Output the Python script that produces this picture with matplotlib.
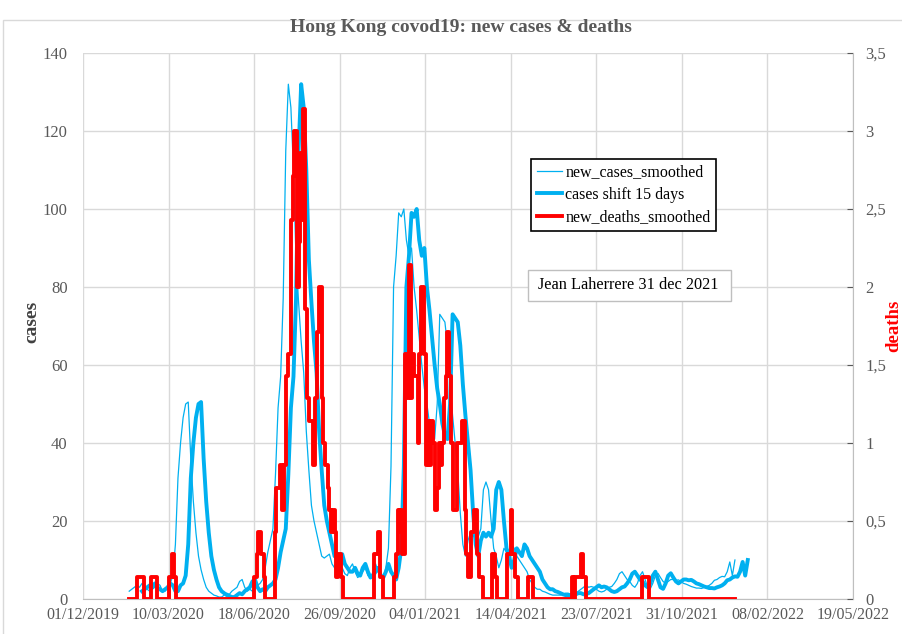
import pandas as pd
import matplotlib
matplotlib.use('Agg')
import matplotlib.pyplot as plt
import matplotlib.dates as mdates
from matplotlib.patches import Rectangle
from matplotlib.ticker import FuncFormatter

# day 0 of the x axis
origin = pd.Timestamp('2019-12-01')

# new_cases_smoothed, one value every 3 days from 24/01/2020
cases_start = '2020-01-24'
cases_step = '3D'
new_cases_smoothed = [
    2, 2.5, 3, 3.5, 3, 4, 3, 2.5, 2, 2.5,
    3, 4, 3.5, 2, 2, 3.5, 4, 6, 14, 31,
    40, 46.5, 50, 50.5, 36, 25, 17, 11, 7.5, 5,
    3, 2, 1.5, 1, 0.8, 0.5, 0.5, 1, 1.5, 1.2,
    2, 2.5, 3, 4.5, 5, 3, 2, 2.5, 2, 3,
    3.5, 4, 5, 8, 12, 15, 18, 32, 49, 57,
    77, 115, 132, 126, 110, 87, 76, 66, 58, 43,
    33, 24, 20, 17, 14, 11, 10.5, 11, 11.5, 9,
    8, 7, 7, 8, 6.5, 6, 8, 9, 7, 5.5,
    6, 7, 8, 6, 5.5, 7, 9, 7, 6, 5,
    8, 13, 34, 80, 88, 99, 98, 100, 92, 88,
    90, 80, 74, 67, 60, 54, 50, 45, 42, 41,
    50, 73, 72, 71, 65, 55, 47, 40, 33, 22,
    14, 11, 15, 17, 16, 17, 16, 18, 28, 30,
    28, 20, 13, 11, 8, 10, 13, 12, 11, 14,
    13, 11, 10, 9, 8, 7, 5, 4, 3, 2.5,
    2.5, 2, 1.8, 1.5, 1.2, 1, 1, 1, 1, 1.2,
    1.5, 1.5, 1.2, 1.3, 1.5, 2, 2.5, 3, 3.5, 3,
    3.2, 3, 2.5, 2, 1.8, 2, 2.5, 3, 3.2, 4,
    5, 6.5, 7, 6, 5, 4.5, 3.5, 3, 4, 6,
    7, 5, 3, 2.6, 4, 6, 6.6, 5.5, 4.5, 4,
    4.5, 5, 5, 4.8, 4.9, 4.5, 4, 3.8, 3.5, 3.2,
    3, 2.8, 2.8, 2.7, 3, 3.2, 3.5, 4, 4.8, 5,
    5.5, 5.8, 5.7, 7, 9.5, 6, 10,
]
shift_days = 15

# deaths over the last 7 days, given where it changes (day after 01/12/2019)
death_day = [
    54, 63, 71, 79, 87, 101, 104, 106, 109,
    200, 203, 205, 208, 211, 213,
    224, 226, 230, 233, 235, 237, 240, 243, 245, 247, 250, 252, 254, 256, 257,
    260, 262, 264, 269, 271, 274, 276, 279, 281, 283, 286, 288, 290, 292, 294,
    296, 298, 302, 304,
    340, 345, 347, 351, 363, 366, 368, 369, 371, 373, 376, 379, 381, 383, 385,
    387, 391, 393, 395, 399, 401, 403, 405, 407, 409, 412, 414, 416, 418, 420,
    422, 424, 426, 428, 430, 433, 437, 443, 446, 448, 450, 453, 457, 461, 463,
    468, 478, 481, 484, 496, 500, 502, 505, 509, 520, 526,
    571, 573, 575, 582, 584, 588, 653, 661, 762,
]
death_7day_total = [
    0, 1, 0, 1, 0, 1, 2, 1, 0,
    1, 2, 3, 2, 1, 0,
    3, 5, 6, 4, 6, 10, 11, 17, 19, 21, 14, 16, 20, 17, 22,
    13, 9, 8, 6, 9, 12, 14, 9, 7, 6, 5, 4, 3, 4, 3,
    1, 2, 1, 0,
    2, 3, 1, 0, 1, 2, 4, 3, 4, 2, 11, 9, 15, 9, 11,
    10, 7, 11, 14, 11, 6, 8, 6, 8, 7, 4, 5, 7, 6, 7,
    9, 10, 12, 10, 7, 4, 7, 8, 4, 2, 1, 3, 4, 2, 1,
    0, 2, 1, 0, 2, 4, 2, 1, 0, 1, 0,
    1, 0, 1, 2, 1, 0, 1, 0, 0,
]

x_ticks = pd.date_range(origin, periods=10, freq='100D')

cases_dates = pd.date_range(cases_start, periods=len(new_cases_smoothed), freq=cases_step)
shifted_dates = cases_dates + pd.Timedelta(days=shift_days)
death_dates = origin + pd.to_timedelta(death_day, unit='D')
new_deaths_smoothed = [k / 7 for k in death_7day_total]

plt.rcParams['font.family'] = ['Liberation Serif', 'DejaVu Serif']
gray = '#595959'
blue = '#00B0F0'

fig = plt.figure(figsize=(9.03, 6.34), dpi=100)
ax = fig.add_axes([83 / 903, 1 - 599 / 634, 770 / 903, 546 / 634])

ax.plot(cases_dates, new_cases_smoothed, color=blue, lw=0.9, label='new_cases_smoothed')
ax.plot(shifted_dates, new_cases_smoothed, color=blue, lw=2.8, label='cases shift 15 days')
ax.set_ylim(0, 140)
ax.set_yticks(range(0, 141, 20))
ax.set_xlim(x_ticks[0], x_ticks[-1])
ax.set_xticks(x_ticks)
ax.xaxis.set_major_formatter(mdates.DateFormatter('%d/%m/%Y'))
ax.grid(True, color='#D9D9D9', lw=1)
ax.set_axisbelow(True)
ax.tick_params(axis='y', colors=gray, labelsize=12, length=0, pad=11)
ax.tick_params(axis='x', colors=gray, labelsize=11.5, length=0, pad=6)
for s in ['top', 'left', 'right']:
    ax.spines[s].set_visible(False)
ax.spines['bottom'].set_color('#BFBFBF')

ax2 = ax.twinx()
ax2.plot(death_dates, new_deaths_smoothed, color='#FF0000', lw=2.8, drawstyle='steps-post',
         label='new_deaths_smoothed')
ax2.set_ylim(0, 3.5)
ax2.set_yticks([0, 0.5, 1, 1.5, 2, 2.5, 3, 3.5])
ax2.yaxis.set_major_formatter(FuncFormatter(lambda v, p: '{:g}'.format(v).replace('.', ',')))
ax2.tick_params(axis='y', colors=gray, labelsize=12, length=4, direction='in', pad=9)
for s in ['top', 'left', 'bottom']:
    ax2.spines[s].set_visible(False)
ax2.spines['right'].set_color('#BFBFBF')

# lift the y tick labels a touch so "0" clears the date labels
for lab in ax.get_yticklabels() + ax2.get_yticklabels():
    lab.set_verticalalignment('center_baseline')

fig.text(32 / 903, 1 - 322 / 634, 'cases', rotation=90, color='#404040', fontsize=14,
         fontweight='bold', ha='center', va='center')
fig.text(902 / 903, 1 - 326 / 634, 'deaths', rotation=90, color='#FF0000', fontsize=13.5,
         fontweight='bold', ha='right', va='center')

h1, l1 = ax.get_legend_handles_labels()
h2, l2 = ax2.get_legend_handles_labels()
leg = ax2.legend(h1 + h2, l1 + l2, loc='upper left', bbox_to_anchor=(531 / 903, 1 - 159 / 634),
                 bbox_transform=fig.transFigure, borderaxespad=0, fancybox=False, framealpha=1,
                 fontsize=11.5, handlelength=1.6, borderpad=0.35, labelspacing=0.4,
                 handletextpad=0.2)
leg.get_frame().set_edgecolor('black')
leg.get_frame().set_linewidth(1.2)

fig.patches.append(Rectangle((528 / 903, 1 - 301 / 634), 203 / 903, 31 / 634,
                             transform=fig.transFigure, facecolor='white', edgecolor='#BFBFBF',
                             lw=1, zorder=5))
fig.text(538 / 903, 1 - 285 / 634, 'Jean Laherrere 31 dec 2021', fontsize=11.7, color='black',
         va='center', ha='left', zorder=6)

fig.text(461 / 903, 1 - 27 / 634, 'Hong Kong covod19: new cases & deaths', fontsize=14,
         fontweight='bold', color=gray, ha='center', va='center')

# chart area border
fig.patches.append(Rectangle((3 / 903, -0.01), 1.0, 1 - 20 / 634 + 0.01, transform=fig.transFigure,
                             facecolor='none', edgecolor='#D9D9D9', lw=1))

fig.savefig('out.png', dpi=100)
